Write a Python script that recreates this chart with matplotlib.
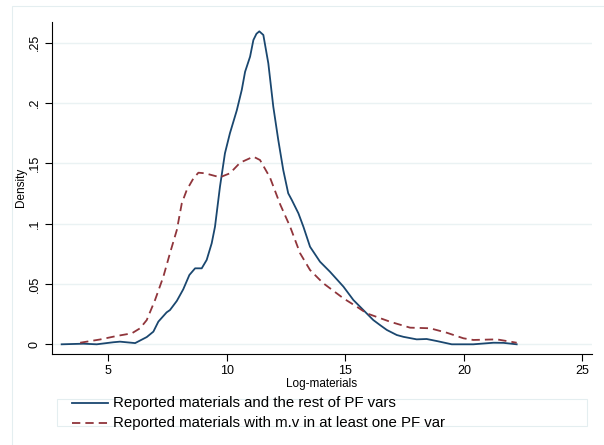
import matplotlib
matplotlib.use("Agg")
import matplotlib.pyplot as plt
from matplotlib.patches import Rectangle
from matplotlib.lines import Line2D

plt.rcParams['font.family'] = ['Liberation Sans', 'DejaVu Sans']

# Blue solid: reported materials and the rest of PF vars
blue_x = [3.03, 3.95, 4.51, 5.21, 5.49, 6.13, 6.62, 6.90, 7.11, 7.46, 7.60, 7.89, 8.16, 8.42,
          8.66, 8.94, 9.15, 9.36, 9.50, 9.71, 9.92, 10.13, 10.42, 10.63, 10.77, 10.98, 11.12,
          11.25, 11.37, 11.54, 11.75, 11.96, 12.17, 12.38, 12.59, 12.74, 13.02, 13.23, 13.51,
          13.93, 14.35, 14.92, 15.34, 15.76, 16.18, 16.46, 16.75, 17.17, 17.45, 18.01, 18.43,
          18.86, 19.49, 20.40, 21.25, 21.67, 22.23]
blue_y = [0.0, 0.0005, 0.0, 0.0017, 0.0022, 0.001, 0.006, 0.0105, 0.0188, 0.0265, 0.0284, 0.036,
          0.0456, 0.0575, 0.063, 0.063, 0.070, 0.0837, 0.0975, 0.1307, 0.1584, 0.175, 0.194,
          0.211, 0.226, 0.2385, 0.2523, 0.2575, 0.2595, 0.2565, 0.233, 0.197, 0.1694, 0.1445,
          0.1252, 0.1197, 0.1086, 0.0975, 0.0809, 0.0685, 0.0602, 0.0478, 0.0367, 0.0284,
          0.0201, 0.016, 0.0119, 0.0077, 0.0062, 0.0041, 0.0044, 0.0027, 0.0, 0.0, 0.0013,
          0.0012, 0.0]

# Red dashed: reported materials with m.v in at least one PF var
red_x = [3.81, 4.65, 5.35, 5.99, 6.34, 6.62, 6.97, 7.32, 7.60, 7.89, 8.10, 8.31, 8.59, 8.80,
         9.08, 9.71, 10.13, 10.56, 11.12, 11.40, 11.82, 12.25, 12.67, 13.09, 13.51, 13.93,
         14.07, 14.92, 15.48, 15.90, 16.89, 17.73, 18.57, 19.28, 19.98, 20.40, 21.39, 22.23]
red_y = [0.0013, 0.004, 0.0069, 0.0091, 0.0133, 0.0201, 0.0367, 0.056, 0.0755, 0.0948, 0.117,
         0.128, 0.1376, 0.1423, 0.1418, 0.1385, 0.1418, 0.1506, 0.1556, 0.1528, 0.1383, 0.116,
         0.0975, 0.0755, 0.0616, 0.0533, 0.0506, 0.0381, 0.0312, 0.0257, 0.0187, 0.0138,
         0.0133, 0.0096, 0.005, 0.0036, 0.0041, 0.0013]

x_ticks = [5, 10, 15, 20, 25]
y_ticks = [0, 0.05, 0.1, 0.15, 0.2, 0.25]
y_tick_labels = ["0", ".05", ".1", ".15", ".2", ".25"]
legend_labels = ["Reported materials and the rest of PF vars",
                 "Reported materials with m.v in at least one PF var"]

W, H = 604, 445
fig = plt.figure(figsize=(W / 100, H / 100), dpi=100)
fig.patch.set_facecolor('white')

def fx(px):
    return px / W

def fy(py):
    return 1 - py / H

# outer faint frame
fig.add_artist(Rectangle((fx(12), fy(470)), fx(620) - fx(12), fy(6) - fy(470),
                         transform=fig.transFigure, fill=False, edgecolor='#e4eef0', lw=0.8))

ax = fig.add_axes([fx(51.7), fy(354), fx(592.3) - fx(51.7), fy(21.7) - fy(354)])
ax.set_xlim(2.61, 25.42)
ax.set_ylim(-0.00804, 0.2675)

blue = '#1a476f'
red = '#90353b'
ax.plot(blue_x, blue_y, color=blue, lw=1.3, zorder=3, solid_joinstyle='round')
ax.plot(red_x, red_y, color=red, lw=1.3, dashes=(4.6, 2.8), zorder=3)

for sp in ['top', 'right']:
    ax.spines[sp].set_visible(False)
for sp in ['left', 'bottom']:
    ax.spines[sp].set_color('black')
    ax.spines[sp].set_linewidth(0.8)

ax.set_xticks(x_ticks)
ax.set_yticks(y_ticks)
ax.set_yticklabels(y_tick_labels, rotation=90, va='center')
ax.tick_params(axis='both', direction='out', length=4.8, width=0.8, labelsize=9, pad=3)
ax.grid(axis='y', color='#eaf2f3', lw=1.0)
ax.set_axisbelow(True)

ax.set_xlabel('Log-materials', fontsize=8.5, labelpad=1)
ax.set_ylabel('Density', fontsize=8.5, labelpad=1)

# legend box
fig.add_artist(Rectangle((fx(57.3), fy(426)), fx(586.7) - fx(57.3), fy(399) - fy(426),
                         transform=fig.transFigure, fill=False, edgecolor='#e4eef0', lw=0.8))
handles = [Line2D([], [], color=blue, lw=1.3),
           Line2D([], [], color=red, lw=1.3, dashes=(4.6, 2.8))]
ys = [403.3, 422.7]
for i, (h, lab, yy) in enumerate(zip(handles, legend_labels, ys)):
    fig.add_artist(Line2D([fx(72.3), fx(108.3)], [fy(yy), fy(yy)], transform=fig.transFigure,
                          color=h.get_color(), lw=1.3,
                          dashes=(4.6, 2.8) if i == 1 else (None, None)))
    fig.text(fx(112.7), fy(yy), lab, fontsize=10.8, va='center', ha='left')

fig.savefig('out.png', dpi=100)
